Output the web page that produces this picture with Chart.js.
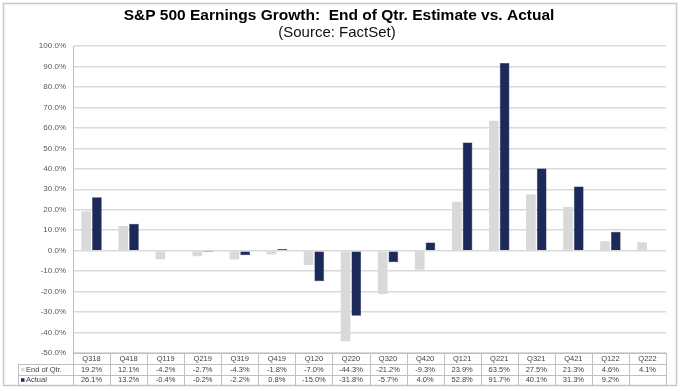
<!DOCTYPE html>
<html>
<head>
<meta charset="utf-8">
<script src="https://cdn.jsdelivr.net/npm/chart.js@4.4.1/dist/chart.umd.min.js"></script>
<style>
html,body{margin:0;padding:0;background:#fff;}
#wrap{width:681px;height:391px;position:relative;}
</style>
</head>
<body>
<div id="wrap"><canvas id="c" width="681" height="391"></canvas></div>
<script>
const titleText = 'S&P 500 Earnings Growth:  End of Qtr. Estimate vs. Actual';
const subtitleText = '(Source: FactSet)';
const categories = ['Q318','Q418','Q119','Q219','Q319','Q419','Q120','Q220','Q320','Q420','Q121','Q221','Q321','Q421','Q122','Q222'];
const endOfQtr = [19.2, 12.1, -4.2, -2.7, -4.3, -1.8, -7.0, -44.3, -21.2, -9.3, 23.9, 63.5, 27.5, 21.3, 4.6, 4.1];
const actual = [26.1, 13.2, -0.4, -0.2, -2.2, 0.8, -15.0, -31.8, -5.7, 4.0, 52.8, 91.7, 40.1, 31.3, 9.2, null];
const seriesNames = ['End of Qtr.', 'Actual'];
const yMin = -50, yMax = 100, yStep = 10;

const GRAY = '#d9d9d9';
const NAVY = '#1b2a58';
const FONT = '"Liberation Sans", Arial, sans-serif';

const fmt = v => (v === null || v === undefined) ? '' : v.toFixed(1) + '%';

const decorPlugin = {
  id: 'decor',
  beforeDraw(chart) {
    const ctx = chart.ctx;
    ctx.save();
    ctx.fillStyle = '#fff';
    ctx.fillRect(0, 0, chart.width, chart.height);
    ctx.restore();
  },
  afterDraw(chart) {
    const ctx = chart.ctx;
    const area = chart.chartArea;
    const x = chart.scales.x;
    ctx.save();
    // outer frame
    ctx.strokeStyle = '#c8c8c8';
    ctx.lineWidth = 1.5;
    ctx.strokeRect(3.5, 3.5, 673, 382);
    // titles
    ctx.fillStyle = '#000';
    ctx.textAlign = 'center';
    ctx.textBaseline = 'middle';
    ctx.font = 'bold 15.5px ' + FONT;
    ctx.fillText(titleText, 339, 15.5);
    ctx.font = '15px ' + FONT;
    ctx.fillStyle = '#111';
    ctx.fillText(subtitleText, 337, 32.5);

    // data table
    const left = 18, colL = area.left, right = area.right;
    const top = area.bottom;
    const rowH = [11, 10.5, 10.5];
    const ys = [top, top + rowH[0], top + rowH[0] + rowH[1], top + rowH[0] + rowH[1] + rowH[2]];
    const n = categories.length;
    const cw = (right - colL) / n;
    ctx.strokeStyle = '#bfbfbf';
    ctx.lineWidth = 1;
    ctx.beginPath();
    ctx.moveTo(colL, ys[0] + 0.5); ctx.lineTo(right, ys[0] + 0.5);
    for (let r = 1; r < 4; r++) {
      ctx.moveTo(left, Math.round(ys[r]) + 0.5); ctx.lineTo(right, Math.round(ys[r]) + 0.5);
    }
    ctx.moveTo(left + 0.5, Math.round(ys[1])); ctx.lineTo(left + 0.5, Math.round(ys[3]));
    for (let i = 0; i <= n; i++) {
      const xx = Math.round(colL + i * cw) + 0.5;
      ctx.moveTo(xx, ys[0]); ctx.lineTo(xx, Math.round(ys[3]));
    }
    ctx.stroke();

    ctx.font = '7.5px ' + FONT;
    ctx.fillStyle = '#404040';
    ctx.textAlign = 'center';
    ctx.textBaseline = 'middle';
    for (let i = 0; i < n; i++) {
      const cx = x.getPixelForValue(i);
      ctx.fillText(categories[i], cx, (ys[0] + ys[1]) / 2 + 0.5);
      ctx.fillText(fmt(endOfQtr[i]), cx, (ys[1] + ys[2]) / 2 + 0.5);
      ctx.fillText(fmt(actual[i]), cx, (ys[2] + ys[3]) / 2 + 0.5);
    }
    ctx.textAlign = 'left';
    const keyCols = [GRAY, NAVY];
    for (let s = 0; s < 2; s++) {
      const cy = (ys[s + 1] + ys[s + 2]) / 2;
      ctx.fillStyle = keyCols[s];
      ctx.fillRect(21, cy - 1.5, 3.5, 3.5);
      ctx.fillStyle = '#404040';
      ctx.fillText(seriesNames[s], 26, cy + 0.5);
    }
    ctx.restore();
  }
};

new Chart(document.getElementById('c'), {
  type: 'bar',
  data: {
    labels: categories,
    datasets: [
      { label: seriesNames[0], data: endOfQtr, backgroundColor: GRAY, borderWidth: 0 },
      { label: seriesNames[1], data: actual, backgroundColor: NAVY, borderColor: '#132046', borderWidth: 0.5 }
    ]
  },
  options: {
    responsive: false,
    animation: false,
    devicePixelRatio: 1,
    layout: { padding: { left: 18, right: 15, top: 46, bottom: 38 } },
    datasets: { bar: { categoryPercentage: 0.58, barPercentage: 0.9 } },
    plugins: {
      legend: { display: false },
      title: { display: false },
      tooltip: { enabled: false }
    },
    scales: {
      x: { display: false },
      y: {
        min: yMin, max: yMax,
        afterFit(scale) { scale.width = 55; },
        ticks: {
          stepSize: yStep,
          callback: v => v.toFixed(1) + '%',
          color: '#595959',
          font: { family: FONT, size: 8 },
          padding: 7
        },
        grid: { color: '#d9d9d9', lineWidth: 1.5, drawTicks: false },
        border: { display: true, color: '#bfbfbf', width: 1 }
      }
    }
  },
  plugins: [decorPlugin]
});
</script>
</body>
</html>
